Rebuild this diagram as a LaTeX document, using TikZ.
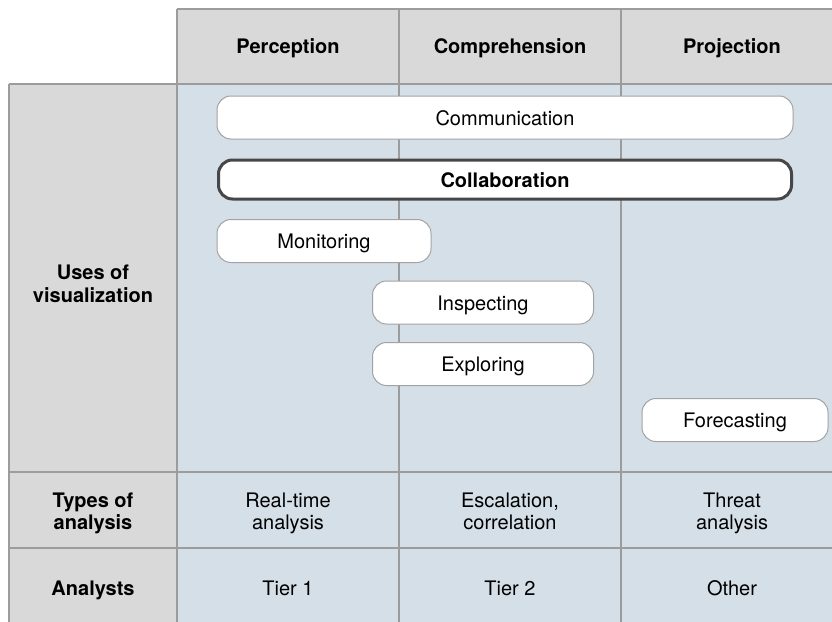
\documentclass[tikz,border=0pt]{standalone}
\usepackage{fontspec}
\setmainfont{TeX Gyre Heros}
\definecolor{hdr}{HTML}{D9D9D9}
\definecolor{bodyblue}{HTML}{D5DFE7}
\definecolor{gridc}{HTML}{9C9C9C}
\definecolor{boxc}{HTML}{A3A3A3}
\definecolor{darkc}{HTML}{474747}
\newcommand\lst{\rule[-4pt]{0pt}{18pt}}
\begin{document}
\begin{tikzpicture}[x=1pt,y=-1pt,
  txt/.style={font=\fontsize{20}{22.5}\selectfont, align=center, text=black, inner sep=0pt},
  one/.style={text height=14pt, text depth=0pt},
  hd/.style={txt, font=\fontsize{20}{22.5}\selectfont\bfseries},
  gridline/.style={draw=gridc, line width=2pt},
  usebox/.style={txt, text height=15.5pt, text depth=0pt, draw=boxc, line width=1pt, fill=white, rounded corners=14pt},
  boldbox/.style={usebox, draw=darkc, line width=3pt, font=\fontsize{20}{22.5}\selectfont\bfseries}
]
\useasboundingbox (0,0) rectangle (832,621);
\begin{scope}
\clip (0,0) rectangle (832,621);
% fills
\fill[hdr] (177,9) rectangle (860,84);
\fill[hdr] (9,84) rectangle (177,640);
\fill[bodyblue] (177,84) rectangle (860,640);
% grid lines
\draw[gridline] (177,9) -- (860,9);
\draw[gridline] (9,84) -- (860,84);
\draw[gridline] (9,472) -- (860,472);
\draw[gridline] (9,548) -- (860,548);
\draw[gridline] (9,84) -- (9,640);
\draw[gridline] (177,9) -- (177,640);
\draw[gridline] (399,9) -- (399,640);
\draw[gridline] (621,9) -- (621,640);
\end{scope}
% header texts
\node[hd, one] (hperc) at (288,46.5) {Perception};
\node[hd, one] (hcomp) at (510,46.5) {Comprehension};
\node[hd, one] (hproj) at (732,46.5) {Projection};
% row headers
\node[hd] (ruses) at (93,285.5) {Uses of\lst\\visualization\lst};
\node[hd] (rtypes) at (93,513.25) {Types of\lst\\analysis\lst};
\node[hd, one] (ranal) at (93,588) {Analysts};
% types row
\node[txt] (t1) at (288,513.25) {Real-time\lst\\analysis\lst};
\node[txt] (t2) at (510,513.25) {Escalation,\lst\\correlation\lst};
\node[txt] (t3) at (732,513.25) {Threat\lst\\analysis\lst};
% analysts row
\node[txt, one] (a1) at (288,588) {Tier 1};
\node[txt, one] (a2) at (510,588) {Tier 2};
\node[txt, one] (a3) at (732,588) {Other};
% uses boxes
\node[usebox, minimum width=576pt, minimum height=43pt] (comm) at (505,117.5) {Communication};
\node[boldbox, minimum width=573pt, minimum height=39pt] (collab) at (505,179.5) {Collaboration};
\node[usebox, minimum width=214pt, minimum height=43pt] (monit) at (324,241) {Monitoring};
\node[usebox, minimum width=221pt, minimum height=43pt] (insp) at (483,302.5) {Inspecting};
\node[usebox, minimum width=221pt, minimum height=43pt] (expl) at (483,364) {Exploring};
\node[usebox, minimum width=186pt, minimum height=43pt] (fore) at (735,420) {Forecasting};
\end{tikzpicture}
\end{document}
